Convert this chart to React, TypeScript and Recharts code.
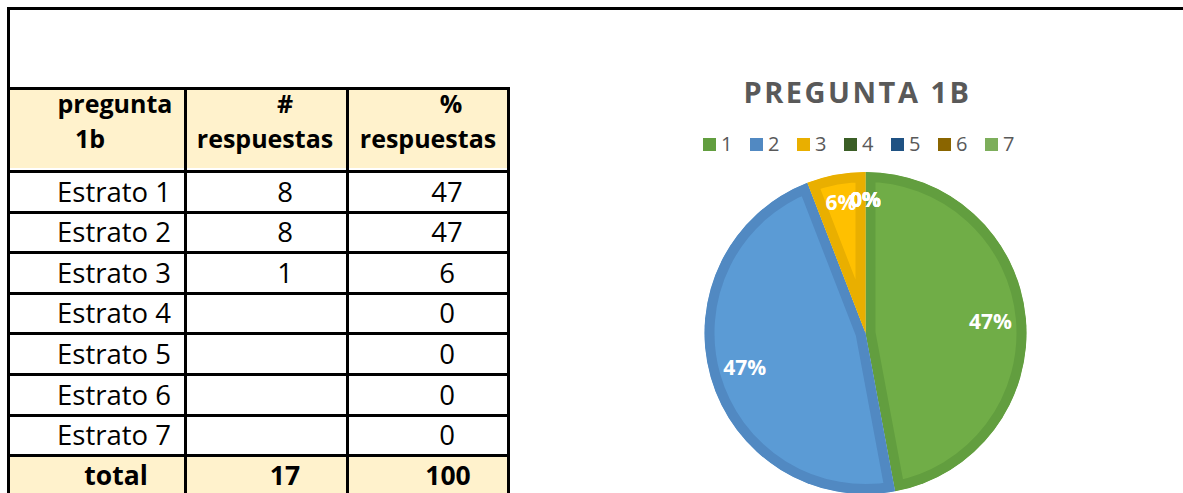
import { Cell, Pie, PieChart, Sector } from "recharts";

const rowLabels = ["Estrato 1", "Estrato 2", "Estrato 3", "Estrato 4", "Estrato 5", "Estrato 6", "Estrato 7"];
const sliceNames = ["1", "2", "3", "4", "5", "6", "7"];
const answerCounts: (number | null)[] = [8, 8, 1, null, null, null, null];
const answerPercents = [47, 47, 6, 0, 0, 0, 0];

const sliceFills = ["#70AD47", "#5B9BD5", "#FFC000", "#43682B", "#255E91", "#997300", "#8CC168"];
const sliceBorders = ["#629E3F", "#5189C2", "#E9AF00", "#3B5E26", "#1F5283", "#8A6500", "#7DAE5B"];

const FONT = "'Open Sans', sans-serif";
const HEADER_BG = "#FFF2CC";

const pieData = sliceNames.map((name, i) => ({ name, value: answerCounts[i] ?? 0 }));
const totalCount = answerCounts.reduce<number>((s, v) => s + (v ?? 0), 0);
const totalPercent = answerPercents.reduce((s, v) => s + v, 0);

function BorderedSlice(props: any) {
  const { cx, cy, innerRadius, outerRadius, startAngle, endAngle, fill, payload, name } = props;
  if (startAngle === endAngle) return null;
  const idx = sliceNames.indexOf(String(payload?.name ?? name));
  const clipId = `slice-clip-${idx}`;
  return (
    <g>
      <defs>
        <clipPath id={clipId}>
          <Sector cx={cx} cy={cy} innerRadius={innerRadius} outerRadius={outerRadius} startAngle={startAngle} endAngle={endAngle} />
        </clipPath>
      </defs>
      <g clipPath={`url(#${clipId})`}>
        <Sector
          cx={cx}
          cy={cy}
          innerRadius={innerRadius}
          outerRadius={outerRadius}
          startAngle={startAngle}
          endAngle={endAngle}
          fill={fill}
          stroke={sliceBorders[idx]}
          strokeWidth={20}
        />
      </g>
    </g>
  );
}

function SliceLabel(props: any) {
  const { cx, cy, midAngle, outerRadius, percent } = props;
  const r = outerRadius * (percent < 0.1 ? 0.83 : 0.78);
  const rad = Math.PI / 180;
  const x = cx + r * Math.cos(-midAngle * rad);
  const y = cy + r * Math.sin(-midAngle * rad);
  return (
    <text x={x} y={y} textAnchor="middle" dominantBaseline="central" fill="#FFFFFF" fontFamily={FONT} fontWeight={700} fontSize={21}>
      {`${Math.round(percent * 100)}%`}
    </text>
  );
}

function LegendRow() {
  return (
    <div
      style={{
        position: "absolute",
        left: 703,
        top: 133,
        display: "flex",
        fontFamily: FONT,
        fontSize: 20,
        color: "#595959",
        lineHeight: "22px",
      }}
    >
      {sliceNames.map((name, i) => (
        <div key={`legend-${name}`} style={{ width: 47, display: "flex", alignItems: "center" }}>
          <span style={{ width: 13, height: 13, background: sliceBorders[i], display: "inline-block" }} />
          <span style={{ marginLeft: 5 }}>{name}</span>
        </div>
      ))}
    </div>
  );
}

const colLines = [184, 346, 507];
const rowLines = [0, 1, 2, 3, 4, 5, 6, 7].map((i) => Math.round(170 + i * 40.6));

function SheetTable() {
  const rowBase = (i: number) => 201.5 + i * 40.6;
  return (
    <svg width={1183} height={493} style={{ position: "absolute", left: 0, top: 0 }}>
      <rect x={10} y={90} width={497} height={78} fill={HEADER_BG} />
      <rect x={10} y={rowLines[7] + 3} width={497} height={40} fill={HEADER_BG} />

      <g fontFamily={FONT} fontSize={27.5} fill="#000">
        <g fontWeight={700} fontSize={25}>
          <text x={115} y={113} textAnchor="middle">pregunta</text>
          <text x={90} y={148} textAnchor="middle">1b</text>
          <text x={285} y={113} textAnchor="middle">#</text>
          <text x={265} y={148} textAnchor="middle">respuestas</text>
          <text x={451} y={113} textAnchor="middle">%</text>
          <text x={428} y={148} textAnchor="middle">respuestas</text>
        </g>
        {rowLabels.map((label, i) => (
          <g key={label}>
            <text x={171} y={rowBase(i)} textAnchor="end">{label}</text>
            {answerCounts[i] != null ? (
              <text x={285} y={rowBase(i)} textAnchor="middle">{answerCounts[i]}</text>
            ) : null}
            <text x={447} y={rowBase(i)} textAnchor="middle">{answerPercents[i]}</text>
          </g>
        ))}
        <g fontWeight={700} fontSize={26.5}>
          <text x={116} y={485} textAnchor="middle">total</text>
          <text x={285} y={485} textAnchor="middle">{totalCount}</text>
          <text x={448} y={485} textAnchor="middle">{totalPercent}</text>
        </g>
      </g>

      <rect x={7} y={7} width={1176} height={3} fill="#000" />
      <rect x={7} y={7} width={3} height={486} fill="#000" />
      <rect x={7} y={87} width={503} height={3} fill="#000" />
      {rowLines.map((y) => (
        <rect key={`h-${y}`} x={7} y={y} width={503} height={3} fill="#000" />
      ))}
      {colLines.map((x) => (
        <rect key={`v-${x}`} x={x} y={87} width={3} height={406} fill="#000" />
      ))}

      <text x={857.5} y={103} textAnchor="middle" fontFamily={FONT} fontWeight={700} fontSize={29} letterSpacing={2.5} fill="#595959">
        PREGUNTA 1B
      </text>
    </svg>
  );
}

export default function App() {
  return (
    <div style={{ position: "relative", width: 1183, height: 493, background: "#FFFFFF", overflow: "hidden" }}>
      <style>{`body{margin:0}`}</style>
      <SheetTable />
      <LegendRow />
      <div style={{ position: "absolute", left: 606, top: 0 }}>
        <PieChart width={520} height={493} margin={{ top: 0, right: 0, bottom: 0, left: 0 }}>
          <Pie
            data={pieData}
            dataKey="value"
            nameKey="name"
            cx={259.5}
            cy={333}
            outerRadius={161}
            startAngle={90}
            endAngle={-270}
            stroke="none"
            labelLine={false}
            label={SliceLabel}
            shape={BorderedSlice}
            isAnimationActive={false}
          >
            {pieData.map((d, i) => (
              <Cell key={d.name} fill={sliceFills[i]} />
            ))}
          </Pie>
        </PieChart>
      </div>
    </div>
  );
}
